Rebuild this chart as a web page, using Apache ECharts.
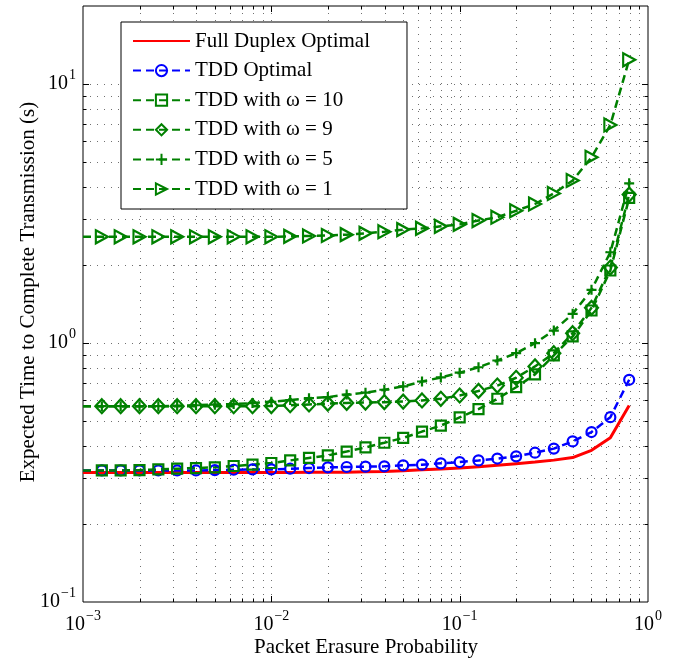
<!DOCTYPE html>
<html>
<head>
<meta charset="utf-8">
<script src="https://cdn.jsdelivr.net/npm/echarts@6/dist/echarts.min.js"></script>
<style>
  html, body { margin: 0; padding: 0; background: #fff; }
  #chart { width: 676px; height: 662px; }
</style>
</head>
<body>
<div id="chart"></div>
<script>
// Packet erasure probability, one point every tenth of a decade
const erasureProb = [
  0.001, 0.001259, 0.001585, 0.001995, 0.002512, 0.003162, 0.003981, 0.005012, 0.00631, 0.007943,
  0.01, 0.01259, 0.01585, 0.01995, 0.02512, 0.03162, 0.03981, 0.05012, 0.0631, 0.07943,
  0.1, 0.1259, 0.1585, 0.1995, 0.2512, 0.3162, 0.3981, 0.5012, 0.631, 0.7943
];

// Expected time to complete transmission (s)
const fullDuplexOptimal = [
  0.316, 0.316, 0.316, 0.316, 0.316, 0.316, 0.316, 0.316, 0.316, 0.316,
  0.316, 0.316, 0.317, 0.317, 0.317, 0.318, 0.319, 0.321, 0.324, 0.326,
  0.329, 0.333, 0.337, 0.342, 0.347, 0.353, 0.361, 0.385, 0.431, 0.574
];
const tddOptimal = [
  0.322, 0.322, 0.322, 0.322, 0.322, 0.322, 0.322, 0.323, 0.324, 0.325,
  0.325, 0.327, 0.329, 0.331, 0.332, 0.333, 0.334, 0.337, 0.339, 0.343,
  0.347, 0.352, 0.358, 0.365, 0.377, 0.391, 0.417, 0.453, 0.517, 0.721
];
const tddOmega10 = [
  0.322, 0.322, 0.322, 0.323, 0.325, 0.327, 0.329, 0.331, 0.335, 0.339,
  0.344, 0.352, 0.360, 0.368, 0.381, 0.395, 0.412, 0.430, 0.455, 0.480,
  0.516, 0.555, 0.609, 0.675, 0.756, 0.895, 1.06, 1.335, 1.905, 3.63
];
const tddOmega9 = [
  0.570, 0.570, 0.570, 0.570, 0.570, 0.570, 0.570, 0.570, 0.570, 0.570,
  0.571, 0.575, 0.579, 0.583, 0.587, 0.589, 0.591, 0.594, 0.600, 0.609,
  0.627, 0.653, 0.685, 0.734, 0.812, 0.913, 1.091, 1.367, 1.956, 3.74
];
const tddOmega5 = [
  0.570, 0.570, 0.570, 0.570, 0.570, 0.572, 0.575, 0.578, 0.581, 0.586,
  0.593, 0.602, 0.612, 0.618, 0.632, 0.643, 0.660, 0.680, 0.710, 0.736,
  0.768, 0.806, 0.856, 0.913, 0.998, 1.117, 1.296, 1.604, 2.240, 4.135
];
const tddOmega1 = [
  2.57, 2.57, 2.57, 2.57, 2.57, 2.57, 2.57, 2.57, 2.57, 2.57,
  2.57, 2.58, 2.59, 2.60, 2.62, 2.65, 2.69, 2.74, 2.77, 2.82,
  2.87, 2.97, 3.06, 3.24, 3.44, 3.78, 4.24, 5.21, 6.95, 12.4
];

const seriesNames = [
  'Full Duplex Optimal', 'TDD Optimal', 'TDD with ω = 10',
  'TDD with ω = 9', 'TDD with ω = 5', 'TDD with ω = 1'
];

// Axis ticks: labelled decades and the minor multiples between them
const xTickExponents = [-3, -2, -1, 0];
const yTickExponents = [-1, 0, 1];
const xDecades = [0.001, 0.01, 0.1];
const yDecades = [0.1, 1, 10];
const minorMultiples = [1, 2, 3, 4, 5, 6, 7, 8, 9];

const X_MIN = 0.001, X_MAX = 1, Y_MIN = 0.1, Y_MAX = 20;
const FONT = '"Liberation Serif", "Times New Roman", serif';
const RED = '#ff0000', BLUE = '#0000ff', GREEN = '#008000';

const chart = echarts.init(document.getElementById('chart'), null, { renderer: 'canvas' });

// points on the left edge of the plot carry no marker, only the line leaving them
function points(ys) {
  return erasureProb.map((x, i) =>
    x <= X_MIN ? { value: [x, ys[i]], symbol: 'none' } : [x, ys[i]]);
}

function isDecade(v) {
  const l = Math.log10(v);
  return Math.abs(l - Math.round(l)) < 1e-6;
}

function powerLabel(value, exponents) {
  const l = Math.log10(value);
  const e = Math.round(l);
  if (Math.abs(l - e) > 1e-6 || exponents.indexOf(e) < 0) return '';
  return '{b|10}{e|' + (e < 0 ? '\u2212' + (-e) : String(e)) + '}';
}

// base "10" with a raised exponent
const tickRich = {
  b: { fontFamily: FONT, fontSize: 20, color: '#000', lineHeight: 20 },
  e: { fontFamily: FONT, fontSize: 14, color: '#000', lineHeight: 14, padding: [0, 0, 18, 1] }
};

const xGridValues = xDecades.flatMap(d => minorMultiples.map(m => m * d))
  .filter(v => v > X_MIN * 1.0001 && v < X_MAX * 0.9999);
const yGridValues = yDecades.flatMap(d => minorMultiples.map(m => m * d))
  .filter(v => v > Y_MIN * 1.0001 && v < Y_MAX * 0.9999);

const dotted = { stroke: '#707070', lineWidth: 1, lineDash: [1, 6] };
const solid = { stroke: '#000', lineWidth: 1 };

function seg(x1, y1, x2, y2, style) {
  return { type: 'line', shape: { x1, y1, x2, y2 }, style };
}

// dotted grid with inward ticks on all four sides of the box
function gridLines(values, dir) {
  return {
    type: 'custom',
    silent: true,
    z: 1,
    animation: false,
    data: values.map(v => dir === 'x' ? [v, 1] : [0.01, v]),
    renderItem(params, api) {
      const cs = params.coordSys;
      const v = api.value(dir === 'x' ? 0 : 1);
      const t = isDecade(v) ? 6 : 3.5;
      if (dir === 'x') {
        const x = Math.round(api.coord([v, 1])[0]) + 0.5;
        const top = cs.y, bot = cs.y + cs.height;
        return { type: 'group', children: [
          seg(x, top, x, bot, dotted),
          seg(x, bot, x, bot - t, solid),
          seg(x, top, x, top + t, solid)
        ] };
      }
      const y = Math.round(api.coord([0.01, v])[1]) + 0.5;
      const l = cs.x, r = cs.x + cs.width;
      return { type: 'group', children: [
        seg(l, y, r, y, dotted),
        seg(l, y, l + t, y, solid),
        seg(r, y, r - t, y, solid)
      ] };
    }
  };
}

function dataSeries(name, ys, color, symbol, size, dashed) {
  const marked = symbol !== 'none';
  return {
    name,
    type: 'line',
    data: points(ys),
    clip: true,
    z: 3,
    color,
    symbol: marked ? symbol : 'circle',
    symbolSize: size,
    showSymbol: marked,
    lineStyle: { color, width: dashed ? 2.5 : 3, type: dashed ? [8, 5] : 'solid' },
    itemStyle: marked
      ? { color: 'none', borderColor: color, borderWidth: 2.2 }
      : { color: 'none', borderColor: 'none', borderWidth: 0 },
    emphasis: { disabled: true },
    animation: false
  };
}

const option = {
  backgroundColor: '#fff',
  grid: {
    left: 83, right: 28, top: 6, bottom: 60,
    show: true, borderColor: '#000', borderWidth: 1, backgroundColor: 'transparent'
  },
  xAxis: {
    type: 'log', logBase: 10, min: X_MIN, max: X_MAX,
    axisLine: { show: false }, axisTick: { show: false }, splitLine: { show: false },
    axisLabel: {
      margin: 13,
      formatter: v => powerLabel(v, xTickExponents),
      rich: tickRich
    }
  },
  yAxis: {
    type: 'log', logBase: 10, min: Y_MIN, max: Y_MAX,
    axisLine: { show: false }, axisTick: { show: false }, splitLine: { show: false },
    axisLabel: {
      margin: 7,
      showMaxLabel: false,
      formatter: v => powerLabel(v, yTickExponents),
      rich: tickRich
    }
  },
  legend: {
    data: seriesNames,
    orient: 'vertical',
    left: 121, top: 22,
    padding: [8, 37, 9, 11],
    itemWidth: 57, itemHeight: 14, itemGap: 7.6,
    backgroundColor: '#fff', borderColor: '#000', borderWidth: 1,
    selectedMode: false,
    textStyle: { fontFamily: FONT, fontSize: 21, color: '#000', lineHeight: 22 }
  },
  graphic: [
    {
      type: 'text',
      x: 366, y: 647,
      style: {
        text: 'Packet Erasure Probability', fontFamily: FONT, fontSize: 21, fill: '#000',
        textAlign: 'center', textVerticalAlign: 'middle'
      }
    },
    {
      type: 'text',
      x: 28, y: 292, rotation: Math.PI / 2,
      style: {
        text: 'Expected Time to Complete Transmission (s)', fontFamily: FONT, fontSize: 21, fill: '#000',
        textAlign: 'center', textVerticalAlign: 'middle'
      }
    }
  ],
  series: [
    gridLines(xGridValues, 'x'),
    gridLines(yGridValues, 'y'),
    dataSeries(seriesNames[0], fullDuplexOptimal, RED, 'none', 0, false),
    dataSeries(seriesNames[1], tddOptimal, BLUE, 'circle', 10, true),
    dataSeries(seriesNames[2], tddOmega10, GREEN, 'rect', 10, true),
    dataSeries(seriesNames[3], tddOmega9, GREEN, 'diamond', [13, 14], true),
    dataSeries(seriesNames[4], tddOmega5, GREEN, 'path://M5,0 L5,10 M0,5 L10,5', 10, true),
    dataSeries(seriesNames[5], tddOmega1, GREEN, 'path://M0,0 L9,5 L0,10 Z', [12, 13], true)
  ]
};

chart.setOption(option);
</script>
</body>
</html>
